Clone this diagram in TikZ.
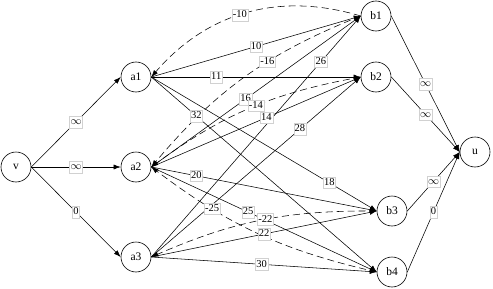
\documentclass[tikz,border=0pt]{standalone}
\usepackage{fontspec}
\setmainfont{Liberation Serif}
\usetikzlibrary{arrows.meta}
\begin{document}
\begin{tikzpicture}[x=1pt,y=-1pt,
  vtx/.style={circle,draw,line width=0.6pt,minimum size=30pt,inner sep=0pt,font=\fontsize{11.5}{13}\selectfont},
  edge/.style={line width=0.55pt,-{Latex[length=7pt,width=5pt]}},
  dedge/.style={edge,dash pattern=on 7pt off 4pt},
  lbl/.style={fill=white,draw=black!18,line width=0.4pt,inner xsep=1pt,inner ysep=1pt,text height=7.5pt,text depth=2pt,font=\fontsize{10.5}{12}\selectfont}]
\useasboundingbox (0,0) rectangle (493,289);
\node[vtx] (v) at (16,167) {v};
\node[vtx] (a1) at (136,77) {a1};
\node[vtx] (a2) at (136,167) {a2};
\node[vtx] (a3) at (136,257) {a3};
\node[vtx] (b1) at (376,16) {b1};
\node[vtx] (b2) at (376,77) {b2};
\node[vtx] (b3) at (392,211) {b3};
\node[vtx] (b4) at (392,272) {b4};
\node[vtx] (u) at (475,152) {u};
% source and sink edges
\draw[edge] (v.east) -- (a1.west);
\draw[edge] (v.east) -- (a2.west);
\draw[edge] (v.east) -- (a3.west);
\draw[edge] (b1.east) -- (u.west);
\draw[edge] (b2.east) -- (u.west);
\draw[edge] (b3.east) -- (u.west);
\draw[edge] (b4.east) -- (u.west);
% solid a->b edges
\foreach \s/\t in {a1/b1,a1/b2,a1/b3,a1/b4,a2/b1,a2/b2,a2/b3,a2/b4,a3/b1,a3/b2,a3/b3,a3/b4}
  \draw[edge] (\s.east) -- (\t.west);
% dashed b->a edges
\draw[dedge] (b1.west) to[bend right=33] (a1.east);
\draw[dedge] (b1.west) to[bend right=14] (a2.east);
\draw[dedge] (b2.west) to[bend right=13] (a2.east);
\draw[dedge] (b4.west) to[bend left=12] (a2.east);
\draw[dedge] (b3.west) to[bend right=12] (a3.east);
% labels
\path (v.east) -- node[lbl]{$\infty$} (a1.west);
\path (v.east) -- node[lbl]{$\infty$} (a2.west);
\path (v.east) -- node[lbl]{0} (a3.west);
\path (b1.east) -- node[lbl]{$\infty$} (u.west);
\path (b2.east) -- node[lbl]{$\infty$} (u.west);
\path (b3.east) -- node[lbl]{$\infty$} (u.west);
\path (b4.east) -- node[lbl]{0} (u.west);
\foreach \s/\t/\p/\l in {a1/b1/0.5/10,a1/b2/0.31/11,a1/b3/0.79/18,a1/b4/0.2/32,
  a2/b1/0.45/16,a2/b2/0.55/14,a2/b3/0.2/20,a2/b4/0.43/25,
  a3/b1/0.81/26,a3/b2/0.71/28,a3/b3/0.5/22,a3/b4/0.49/30}
  \path (\s.east) -- node[lbl,pos=\p]{\l} (\t.west);
\path (b1.west) to[bend right=33] node[lbl,pos=0.53]{-10} (a1.east);
\path (b1.west) to[bend right=14] node[lbl,pos=0.39]{-16} (a2.east);
\path (b2.west) to[bend right=13] node[lbl,pos=0.47]{-14} (a2.east);
\path (b4.west) to[bend left=12] node[lbl,pos=0.72]{-25} (a2.east);
\path (b3.west) to[bend right=12] node[lbl,pos=0.48]{-22} (a3.east);
\end{tikzpicture}
\end{document}
